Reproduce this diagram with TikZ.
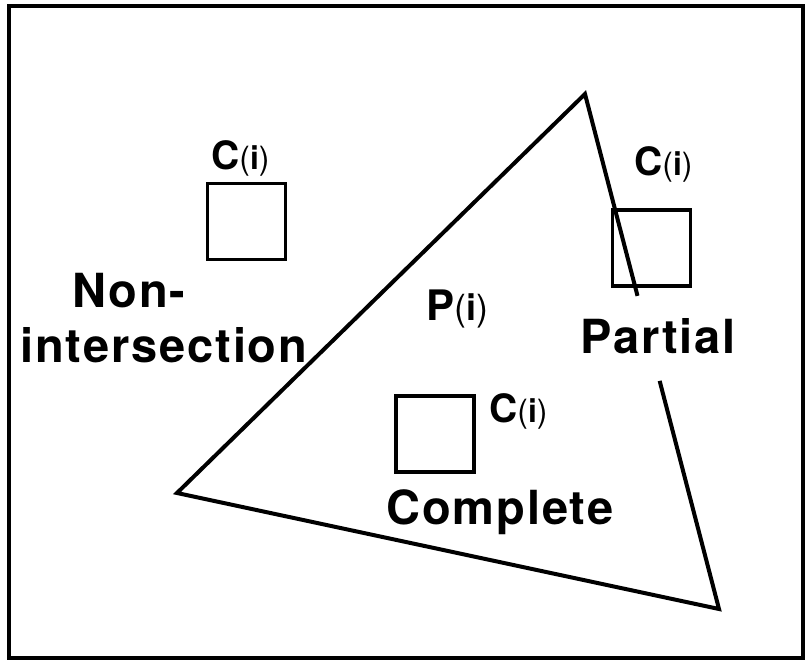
\documentclass[tikz,border=0pt]{standalone}
\usepackage{fontspec}
\setmainfont{TeX Gyre Heros}
\newfontfamily\lblfont[LetterSpace=4]{TeX Gyre Heros}
\usetikzlibrary{calc}
\newcommand\CiLabel[1]{{\bfseries\fontsize{39}{42}\selectfont #1}{\fontsize{32}{34}\selectfont(\textbf{i})}}
\begin{document}
\begin{tikzpicture}[x=1pt,y=-1pt,
  lbl/.style={anchor=base west, inner sep=0pt, font=\lblfont\bfseries\fontsize{47}{50}\selectfont},
  cilbl/.style={anchor=base west, inner sep=0pt},
  sqbox/.style={draw, line width=3.5pt, inner sep=0pt, minimum width=78pt, minimum height=76pt},
  tri/.style={line width=4pt, line join=miter}]
\useasboundingbox (0,0) rectangle (806,663);
\draw[line width=3.5pt] (9,6) rectangle (803,658);
% triangle P(i)
\coordinate (A) at (585,94);
\coordinate (B) at (177,493);
\coordinate (C) at (719,609);
\coordinate (gapA) at ($(A)!0.392!(C)$);
\coordinate (gapC) at ($(A)!0.557!(C)$);
\draw[tri] (gapC) -- (C) -- (B) -- (A) -- (gapA);
% squares C(i)
\node[sqbox] (sqN) at (246.5,221.5) {};
\node[sqbox] (sqP) at (651.5,248) {};
\node[sqbox] (sqC) at (435,434) {};
% labels
\node[cilbl] (ciN) at (211,170) {\CiLabel{C}};
\node[cilbl] (ciP) at (634,176) {\CiLabel{C}};
\node[cilbl] (ciC) at (489,422) {\CiLabel{C}};
\node[cilbl] (pi) at (426,320) {{\bfseries\fontsize{42}{44}\selectfont P}{\fontsize{36}{38}\selectfont(\textbf{i})}};
\node[lbl] (non) at (72,307) {Non-};
\node[lbl] (inter) at (20,362) {intersection};
\node[lbl] (partial) at (580,353) {Partial};
\node[lbl] (complete) at (386,524) {Complete};
\end{tikzpicture}
\end{document}
